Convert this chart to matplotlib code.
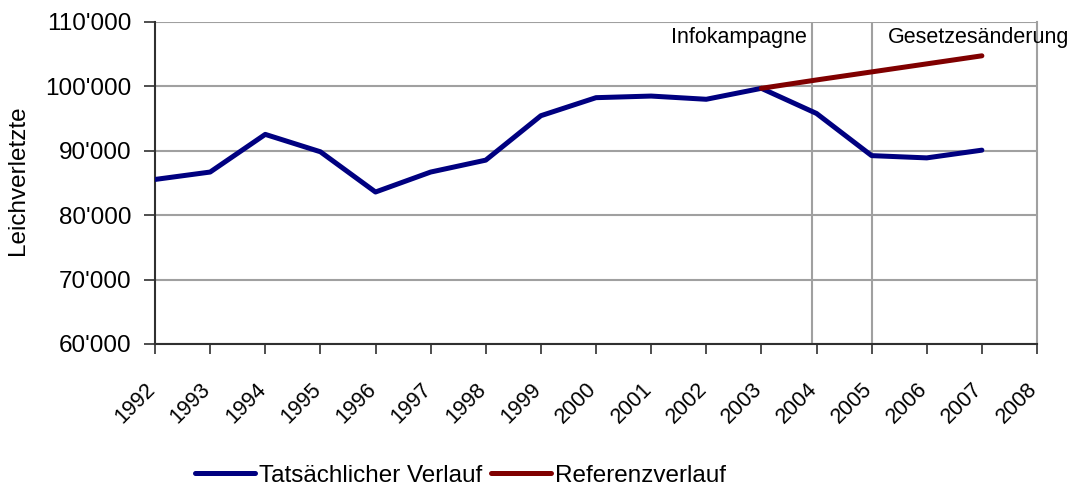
import matplotlib
matplotlib.use("Agg")
import matplotlib.pyplot as plt
from matplotlib.transforms import ScaledTranslation

plt.rcParams['font.family'] = ['Liberation Sans', 'DejaVu Sans']

years = [str(y) for y in range(1992, 2009)]
actual = [85550, 86700, 92550, 89850, 83600, 86700, 88550, 95450, 98250,
          98500, 98000, 99700, 95800, 89250, 88900, 90100]
ref_years_idx = [11, 12, 13, 14, 15]
reference = [99700, 101000, 102250, 103500, 104750]
yticks = [60000, 70000, 80000, 90000, 100000, 110000]
ytick_labels = ["60'000", "70'000", "80'000", "90'000", "100'000", "110'000"]
events = [(11.92, "Infokampagne"), (13.0, "Gesetzesänderung")]

fig = plt.figure(figsize=(10.8, 4.88), dpi=100)
ax = fig.add_axes([155/1080, 1-344/488, (1037-155)/1080, (344-22)/488])

ax.set_xlim(0, 16)
ax.set_ylim(60000, 110000)
ax.set_yticks(yticks)
ax.set_yticklabels(ytick_labels, fontsize=17.5)
ax.set_xticks(range(len(years)))
ax.set_xticklabels(years, rotation=45, ha='right', va='top',
                   rotation_mode='anchor', fontsize=15.5)
ax.tick_params(axis='x', length=7, width=1.2, color='#303030', pad=18)
ax.tick_params(axis='y', length=8, width=1.2, color='#303030', pad=9)
for lbl in ax.get_xticklabels():
    lbl.set_transform(lbl.get_transform() + ScaledTranslation(-10/100, 0, fig.dpi_scale_trans))

ax.grid(axis='y', color='#a0a0a0', linewidth=1.5)
ax.set_axisbelow(True)
ax.spines['top'].set_visible(False)
ax.spines['right'].set_color('#a0a0a0')
ax.spines['right'].set_linewidth(1.5)
for s in ['left', 'bottom']:
    ax.spines[s].set_color('#303030')
    ax.spines[s].set_linewidth(1.5)

for xv, _ in events:
    ax.axvline(xv, color='#a0a0a0', linewidth=1.5, zorder=1)

ax.plot(range(len(actual)), actual, color='#000080', linewidth=3.6,
        solid_capstyle='round', label='Tatsächlicher Verlauf', zorder=3)
ax.plot(ref_years_idx, reference, color='#800000', linewidth=3.6,
        solid_capstyle='round', label='Referenzverlauf', zorder=4)

ax.text(11.83, 107520, events[0][1], ha='right', va='center', fontsize=15.5)
ax.text(13.30, 107520, events[1][1], ha='left', va='center', fontsize=15.5,
        clip_on=False)

ax.set_ylabel('Leichverletzte', fontsize=17.5)
ax.yaxis.set_label_coords(-0.143, 0.51)

fig.legend(loc='center', bbox_to_anchor=(0.4264, 0.0246), ncol=2, frameon=False,
           fontsize=17.5, handlelength=2.47, handletextpad=0.16, columnspacing=0.37,
           borderpad=0.1)

fig.savefig('out.png', dpi=100)
